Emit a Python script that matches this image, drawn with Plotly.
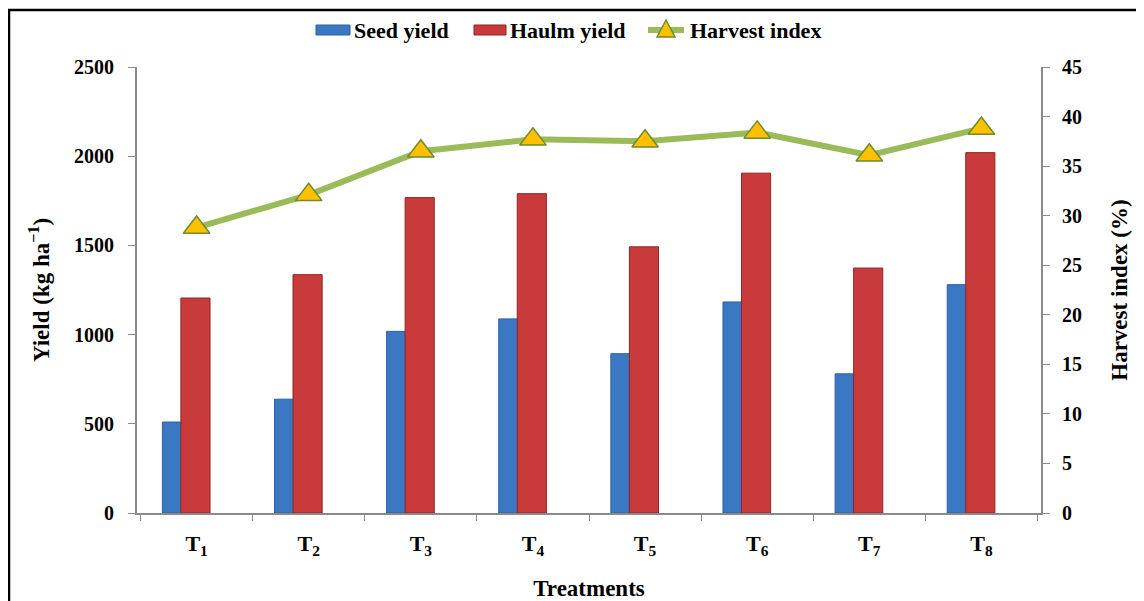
import plotly.graph_objects as go

treatments = ["T1", "T2", "T3", "T4", "T5", "T6", "T7", "T8"]
tick_labels = ["T<sub>1</sub>", "T<sub>2</sub>", "T<sub>3</sub>", "T<sub>4</sub>",
               "T<sub>5</sub>", "T<sub>6</sub>", "T<sub>7</sub>", "T<sub>8</sub>"]
seed_yield = [510, 638, 1018, 1088, 893, 1183, 780, 1280]
haulm_yield = [1205, 1336, 1768, 1790, 1492, 1905, 1373, 2020]
harvest_index = [28.8, 32.1, 36.5, 37.7, 37.5, 38.4, 36.1, 38.8]
legend_names = ["Seed yield", "Haulm yield", "Harvest index"]

FONT = "Liberation Serif"
BLUE, BLUE_EDGE = "#3B78C3", "#2E5F9E"
RED, RED_EDGE = "#C93B3A", "#8E2524"
GREEN, YELLOW, YELLOW_EDGE = "#9BBB59", "#FFC000", "#6E8B2E"
AXIS = "#8A8A8A"

# page offset of the figure (body margin) and target plot area in page pixels
OFF = 8
PX0, PX1, PY0, PY1 = 137, 1041, 67, 513
W, H = 1136, 593
pw, ph = PX1 - PX0, PY1 - PY0


def px(x):
    return (x - PX0) / pw


def py(y):
    return (PY1 - y) / ph


fig = go.Figure()
fig.add_trace(go.Bar(
    x=treatments, y=seed_yield, name=legend_names[0],
    width=0.26, offset=-0.305,
    marker=dict(color=BLUE, line=dict(color=BLUE_EDGE, width=1)),
))
fig.add_trace(go.Bar(
    x=treatments, y=haulm_yield, name=legend_names[1],
    width=0.26, offset=-0.14,
    marker=dict(color=RED, line=dict(color=RED_EDGE, width=1)),
))
fig.add_trace(go.Scatter(
    x=treatments, y=harvest_index, name=legend_names[2], yaxis="y2",
    mode="lines+markers",
    line=dict(color=GREEN, width=6),
    marker=dict(symbol="triangle-up", size=23, color=YELLOW,
                line=dict(color=YELLOW_EDGE, width=1.5)),
))

shapes = [dict(
    type="rect", xref="paper", yref="paper",
    x0=px(9), x1=px(W + OFF + 30),
    y0=py(H + OFF + 30), y1=py(10),
    line=dict(color="black", width=2.5), fillcolor="rgba(0,0,0,0)", layer="below",
)]
annotations = []

# manual legend
ly = 30
shapes.append(dict(type="rect", xref="paper", yref="paper",
                   x0=px(316), x1=px(350), y0=py(ly + 5), y1=py(ly - 5),
                   fillcolor=BLUE, line=dict(color=BLUE_EDGE, width=1)))
shapes.append(dict(type="rect", xref="paper", yref="paper",
                   x0=px(474), x1=px(506), y0=py(ly + 5), y1=py(ly - 5),
                   fillcolor=RED, line=dict(color=RED_EDGE, width=1)))
shapes.append(dict(type="line", xref="paper", yref="paper",
                   x0=px(648), x1=px(684), y0=py(ly), y1=py(ly),
                   line=dict(color=GREEN, width=6)))
tx, th = 666, 9
shapes.append(dict(type="path", xref="paper", yref="paper",
                   path=f"M {px(tx - th)} {py(ly + 7)} L {px(tx + th)} {py(ly + 7)} L {px(tx)} {py(ly - 10)} Z",
                   fillcolor=YELLOW, line=dict(color=YELLOW_EDGE, width=1.5)))
for name, x in zip(legend_names, [352, 508, 688]):
    annotations.append(dict(text=f"<b>{name}</b>", xref="paper", yref="paper",
                            x=px(x), y=py(ly), xanchor="left", yanchor="middle",
                            showarrow=False, font=dict(family=FONT, size=22, color="black")))

fig.update_layout(
    width=W, height=H,
    margin=dict(l=PX0 - OFF, r=W + OFF - PX1, t=PY0 - OFF, b=H + OFF - PY1, pad=0),
    barmode="overlay",
    plot_bgcolor="white", paper_bgcolor="white",
    font=dict(family=FONT, color="black", size=16),
    showlegend=False,
    xaxis=dict(
        tickmode="array", tickvals=treatments, ticktext=tick_labels,
        tickfont=dict(family=FONT, size=22, weight="bold"),
        showline=True, linecolor=AXIS, linewidth=2,
        ticks="outside", tickson="boundaries", tickcolor=AXIS, ticklen=6, tickwidth=1,
        ticklabelstandoff=10,
        showgrid=False, zeroline=False, automargin=False,
        title=dict(text="<b>Treatments</b>", font=dict(family=FONT, size=23), standoff=22),
    ),
    yaxis=dict(
        range=[0, 2500], tickvals=[0, 500, 1000, 1500, 2000, 2500],
        tickfont=dict(family=FONT, size=20, weight="bold"),
        showline=True, linecolor=AXIS, linewidth=2,
        ticks="outside", tickcolor=AXIS, ticklen=7, tickwidth=1,
        ticklabelstandoff=10,
        showgrid=False, zeroline=False, automargin=False,
        title=dict(text="<b>Yield (kg ha<sup>−1</sup>)</b>", font=dict(family=FONT, size=23), standoff=18),
    ),
    yaxis2=dict(
        overlaying="y", side="right",
        range=[0, 45], tickvals=list(range(0, 50, 5)),
        tickfont=dict(family=FONT, size=20, weight="bold"),
        showline=True, linecolor=AXIS, linewidth=2,
        ticks="outside", tickcolor=AXIS, ticklen=7, tickwidth=1,
        ticklabelstandoff=8,
        showgrid=False, zeroline=False, automargin=False,
        title=dict(text="<b>Harvest index (%)</b>", font=dict(family=FONT, size=23), standoff=30),
    ),
    shapes=shapes,
    annotations=annotations,
)

fig.write_html("out.html")
